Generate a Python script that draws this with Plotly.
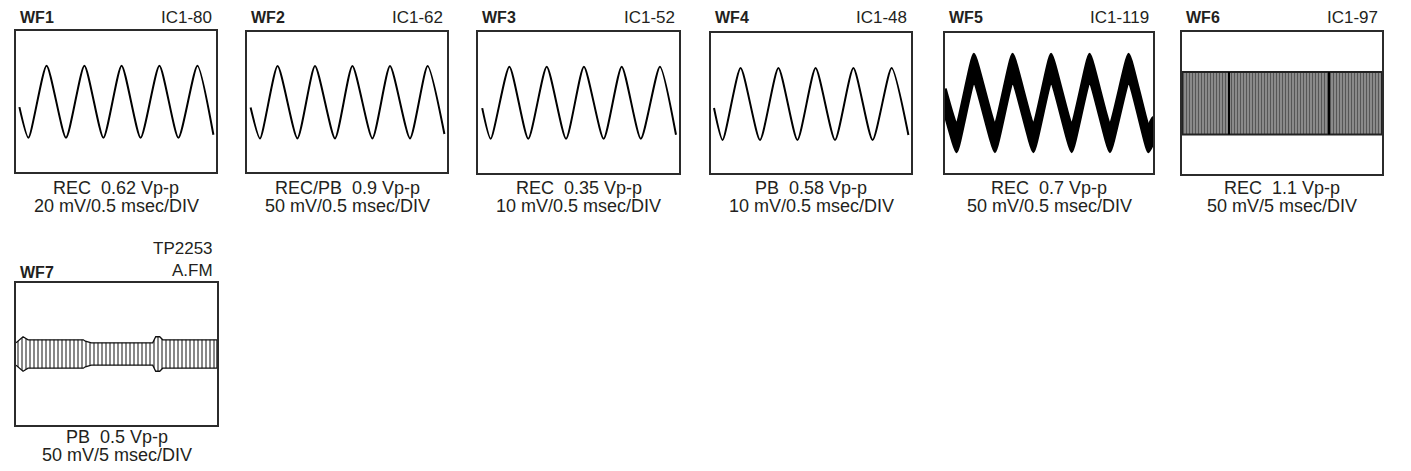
import plotly.graph_objects as go

W, H = 1411, 471

# ------------------------------------------------------------------ data
PANEL_IDS = ["WF1", "WF2", "WF3", "WF4", "WF5", "WF6", "WF7"]
PANEL_REFS = ["IC1-80", "IC1-62", "IC1-52", "IC1-48", "IC1-119", "IC1-97", "TP2253<br>A.FM"]
CAPTION_MODE = ["REC\u00a0\u00a00.62 Vp-p", "REC/PB\u00a0\u00a00.9 Vp-p", "REC\u00a0\u00a00.35 Vp-p",
                "PB\u00a0\u00a00.58 Vp-p", "REC\u00a0\u00a00.7 Vp-p", "REC\u00a0\u00a01.1 Vp-p", "PB\u00a0\u00a00.5 Vp-p"]
CAPTION_SCALE = ["20 mV/0.5 msec/DIV", "50 mV/0.5 msec/DIV", "10 mV/0.5 msec/DIV", "10 mV/0.5 msec/DIV",
                 "50 mV/0.5 msec/DIV", "50 mV/5 msec/DIV", "50 mV/5 msec/DIV"]

# waveform vertices (time in div, level in div)
WF1_T = [0.17, 0.62, 1.53, 2.50, 3.42, 4.37, 5.28, 6.23, 7.17, 8.12, 9.07, 9.87]
WF1_V = [-0.28, -1.80, 1.78, -1.80, 1.78, -1.80, 1.78, -1.80, 1.78, -1.80, 1.78, -1.65]
WF2_T = [0.18, 0.65, 1.53, 2.52, 3.40, 4.40, 5.27, 6.27, 7.15, 8.15, 9.03, 9.87]
WF2_V = [-0.28, -1.82, 1.80, -1.82, 1.80, -1.82, 1.80, -1.82, 1.80, -1.82, 1.80, -1.60]
WF3_T = [0.21, 0.63, 1.56, 2.50, 3.42, 4.38, 5.27, 6.25, 7.15, 8.10, 9.05, 9.85]
WF3_V = [-0.28, -1.80, 1.78, -1.80, 1.78, -1.80, 1.78, -1.80, 1.78, -1.80, 1.78, -1.60]
WF4_T = [0.15, 0.58, 1.48, 2.45, 3.37, 4.32, 5.23, 6.20, 7.12, 8.08, 9.03, 9.87]
WF4_V = [-0.25, -1.85, 1.75, -1.85, 1.75, -1.85, 1.75, -1.85, 1.75, -1.85, 1.75, -1.60]
# WF5: thick trace -> centre line plus half thickness
WF5_T = [0.0, 0.56, 1.39, 2.40, 3.25, 4.25, 5.10, 6.09, 6.95, 7.93, 8.83, 9.77, 10.0]
WF5_V = [0.10, -1.80, 1.80, -1.80, 1.80, -1.80, 1.80, -1.80, 1.80, -1.80, 1.80, -1.80, -1.35]
WF5_HALF = 0.62
# WF6: FM carrier band (x extent, top, bottom) and the darker marks
WF6_X = [0.0, 10.0]
WF6_TOP = 1.53
WF6_BOT = -1.55
WF6_MARKS = [2.35, 7.35]
# WF7: envelope of the FM band (x in div, half height in div)
WF7_X = [0.0, 0.35, 0.60, 3.35, 3.45, 3.75, 6.80, 6.95, 7.15, 7.30, 10.0]
WF7_HW = [0.55, 0.85, 0.70, 0.70, 0.63, 0.55, 0.55, 0.85, 0.85, 0.70, 0.70]

# ------------------------------------------------------------------ layout geometry (pixels)
BOXES = [
    (16, 216, 31, 172),
    (247, 447, 32, 172),
    (478, 679, 32, 173),
    (711, 911, 33, 173),
    (945, 1153, 33, 173),
    (1182, 1382, 32, 174),
    (16, 217, 283, 425),
]
TXT = "#231f20"
FONT = "Liberation Sans, Arial, Helvetica, sans-serif"

fig = go.Figure()
layout = dict(width=W, height=H, margin=dict(l=0, r=0, t=0, b=0, autoexpand=False),
              paper_bgcolor="white", plot_bgcolor="white", showlegend=False)

annotations = []
for i, (l, r, t, b) in enumerate(BOXES):
    n = "" if i == 0 else str(i + 1)
    ax = dict(domain=[l / W, r / W], range=[0, 10], showgrid=False, zeroline=False,
              showticklabels=False, ticks="", showline=True, mirror=True,
              linecolor="#2b2b2b", linewidth=2, fixedrange=True, anchor="y" + n)
    ay = dict(domain=[1 - b / H, 1 - t / H], range=[-3.5, 3.5], showgrid=False, zeroline=False,
              showticklabels=False, ticks="", showline=True, mirror=True,
              linecolor="#2b2b2b", linewidth=2, fixedrange=True, anchor="x" + n)
    layout["xaxis" + n] = ax
    layout["yaxis" + n] = ay

    if i < 6:
        ty, ry, c1, c2 = 17.5, 17.5, 188, 206
    else:
        ty, ry, c1, c2 = 272, 259, 437, 455
    annotations.append(dict(x=(l + 2) / W, y=1 - ty / H, xref="paper", yref="paper",
                            text="<b>%s</b>" % PANEL_IDS[i], showarrow=False,
                            xanchor="left", yanchor="middle",
                            font=dict(family=FONT, size=16, color=TXT)))
    annotations.append(dict(x=(r - 2) / W, y=1 - ry / H, xref="paper", yref="paper",
                            text=PANEL_REFS[i], showarrow=False, xanchor="right", yanchor="middle",
                            align="right", font=dict(family=FONT, size=17, color=TXT)))
    cx = (l + r) / 2 / W
    annotations.append(dict(x=cx, y=1 - c1 / H, xref="paper", yref="paper", text=CAPTION_MODE[i],
                            showarrow=False, xanchor="center", yanchor="middle",
                            font=dict(family=FONT, size=18, color=TXT)))
    annotations.append(dict(x=cx, y=1 - c2 / H, xref="paper", yref="paper", text=CAPTION_SCALE[i],
                            showarrow=False, xanchor="center", yanchor="middle",
                            font=dict(family=FONT, size=18, color=TXT)))


def axes(i):
    n = "" if i == 0 else str(i + 1)
    return "x" + n, "y" + n


# sine-like traces WF1-WF4
for i, (T, V) in enumerate([(WF1_T, WF1_V), (WF2_T, WF2_V), (WF3_T, WF3_V), (WF4_T, WF4_V)]):
    xa, ya = axes(i)
    fig.add_trace(go.Scatter(x=T, y=V, mode="lines", xaxis=xa, yaxis=ya,
                             line=dict(color="black", width=2, shape="spline", smoothing=0.6),
                             hoverinfo="skip"))

# WF5 thick band
xa, ya = axes(4)
upper = [v + WF5_HALF for v in WF5_V]
lower = [v - WF5_HALF for v in WF5_V]
fig.add_trace(go.Scatter(x=WF5_T + WF5_T[::-1], y=upper + lower[::-1], mode="lines",
                         fill="toself", fillcolor="black", xaxis=xa, yaxis=ya,
                         line=dict(color="black", width=3.5, shape="spline", smoothing=0.3),
                         hoverinfo="skip"))

# WF6 band
xa, ya = axes(5)
fig.add_trace(go.Scatter(x=[WF6_X[0], WF6_X[1], WF6_X[1], WF6_X[0], WF6_X[0]],
                         y=[WF6_TOP, WF6_TOP, WF6_BOT, WF6_BOT, WF6_TOP], mode="lines",
                         fill="toself", xaxis=xa, yaxis=ya,
                         fillpattern=dict(shape="|", size=3, solidity=0.5, fgcolor="#111",
                                          bgcolor="#9a9a9a"),
                         line=dict(color="#222", width=2), hoverinfo="skip"))
for m in WF6_MARKS:
    fig.add_trace(go.Scatter(x=[m, m], y=[WF6_TOP, WF6_BOT], mode="lines", xaxis=xa, yaxis=ya,
                             line=dict(color="black", width=2), hoverinfo="skip"))

# WF7 envelope band
xa, ya = axes(6)
top7 = list(WF7_HW)
bot7 = [-h for h in WF7_HW]
fig.add_trace(go.Scatter(x=WF7_X + WF7_X[::-1], y=top7 + bot7[::-1], mode="lines",
                         fill="toself", xaxis=xa, yaxis=ya,
                         fillpattern=dict(shape="|", size=4, solidity=0.5, fgcolor="#111",
                                          bgcolor="white"),
                         line=dict(color="#111", width=1.3), hoverinfo="skip"))

layout["annotations"] = annotations
fig.update_layout(**layout)
fig.write_html("out.html", config={"displayModeBar": False},
               post_script="document.body.style.margin='0px';document.body.style.overflow='hidden';")
